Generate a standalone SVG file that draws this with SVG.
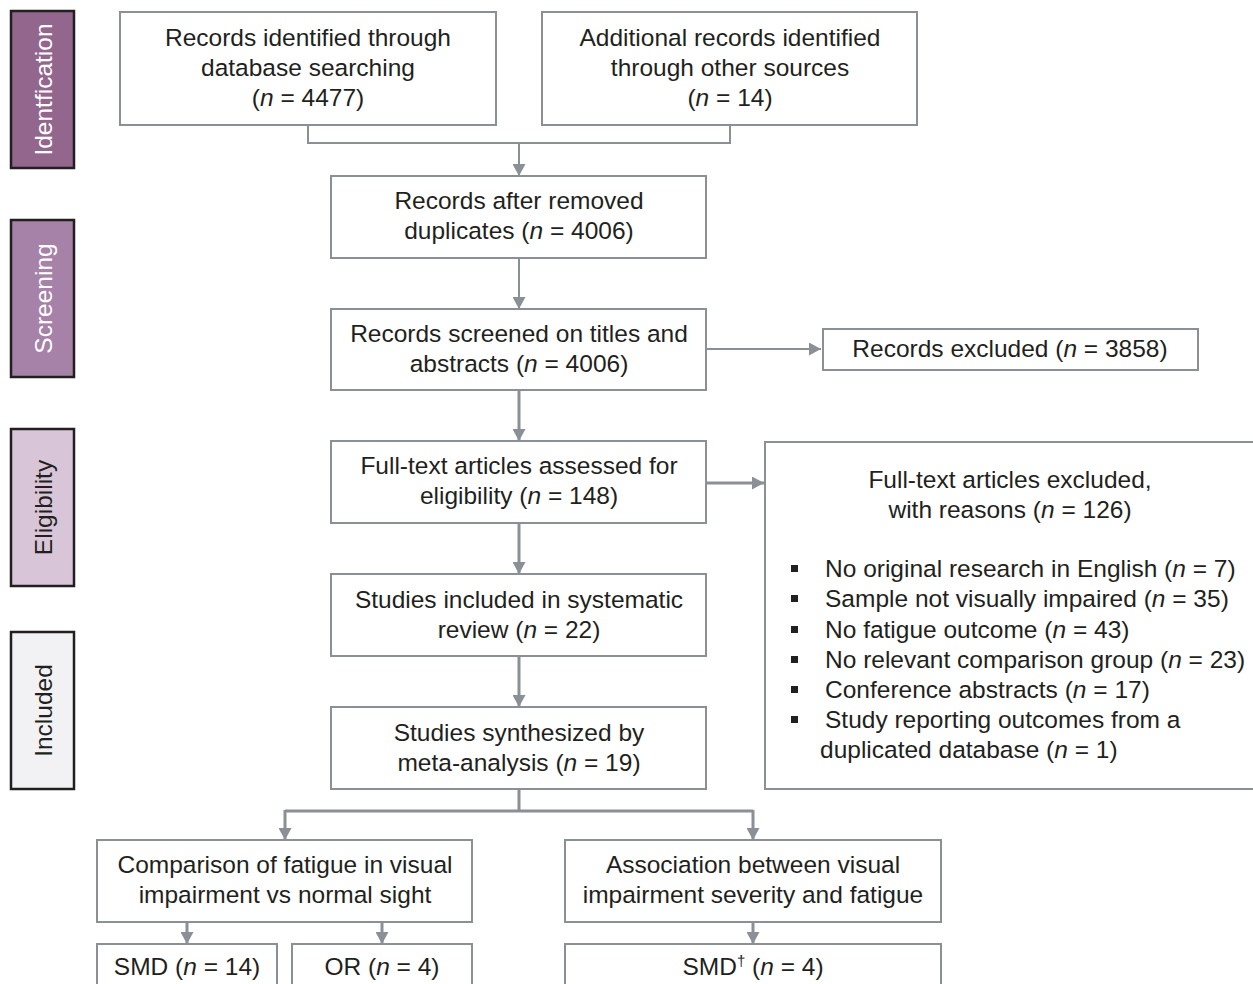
<svg xmlns="http://www.w3.org/2000/svg" width="1253" height="984" viewBox="0 0 1253 984">
<style>
text{font-family:"Liberation Sans",Arial,sans-serif;font-size:24.5px;fill:#231f20}
.box{fill:#fff;stroke:#8a9096;stroke-width:2}
.stage{stroke:#231f20;stroke-width:2.5}
.c{text-anchor:middle}
.w{fill:#fff}
.ln{fill:none;stroke:#8a9096;stroke-width:2}
.lt{fill:none;stroke:#8a9096;stroke-width:3}
.bul{fill:#231f20}
</style>
<defs>
<marker id="ah" viewBox="0 0 12 13" refX="12" refY="6.5" markerWidth="12" markerHeight="13" markerUnits="userSpaceOnUse" orient="auto">
<path d="M0,0 L12,6.5 L0,13 z" fill="#8a9096"/>
</marker>
</defs>
<rect width="1253" height="984" fill="#fff"/>

<g id="stage-identification">
<rect class="stage" x="11" y="11" width="63" height="157" fill="#93668e"/>
<text class="c w" transform="translate(52,89.5) rotate(-90)">Identfication</text>
</g>
<g id="stage-screening">
<rect class="stage" x="11" y="220" width="63" height="157" fill="#a681a8"/>
<text class="c w" transform="translate(52,298.5) rotate(-90)">Screening</text>
</g>
<g id="stage-eligibility">
<rect class="stage" x="11" y="429" width="63" height="157" fill="#d8c6d8"/>
<text class="c" transform="translate(52,507.5) rotate(-90)">Eligibility</text>
</g>
<g id="stage-included">
<rect class="stage" x="11" y="632" width="63" height="157" fill="#f2f2f4"/>
<text class="c" transform="translate(52,710.5) rotate(-90)">Included</text>
</g>

<g id="connectors">
<path class="ln" d="M308,125 V143 H730 V125"/>
<path class="ln" d="M519,143 V176" marker-end="url(#ah)"/>
<path class="ln" d="M519,258 V309" marker-end="url(#ah)"/>
<path class="ln" d="M706,349 H821" marker-end="url(#ah)"/>
<path class="lt" d="M519,390 V441" marker-end="url(#ah)"/>
<path class="lt" d="M706,483 H764" marker-end="url(#ah)"/>
<path class="lt" d="M519,523 V574" marker-end="url(#ah)"/>
<path class="lt" d="M519,656 V707" marker-end="url(#ah)"/>
<path class="lt" d="M519,789 V811 M285,811 H753"/>
<path class="lt" d="M285,810 V840" marker-end="url(#ah)"/>
<path class="lt" d="M753,810 V840" marker-end="url(#ah)"/>
<path class="lt" d="M187,922 V944" marker-end="url(#ah)"/>
<path class="lt" d="M382,922 V944" marker-end="url(#ah)"/>
<path class="lt" d="M753,922 V944" marker-end="url(#ah)"/>
</g>

<g id="node-database">
<rect class="box" x="120" y="12" width="376" height="113"/>
<text class="c" x="308" y="46">Records identified through</text>
<text class="c" x="308" y="76">database searching</text>
<text class="c" x="308" y="106">(<tspan font-style="italic">n</tspan> = 4477)</text>
</g>
<g id="node-other">
<rect class="box" x="542" y="12" width="375" height="113"/>
<text class="c" x="730" y="46">Additional records identified</text>
<text class="c" x="730" y="76">through other sources</text>
<text class="c" x="730" y="106">(<tspan font-style="italic">n</tspan> = 14)</text>
</g>
<g id="node-dedup">
<rect class="box" x="331" y="176" width="375" height="82"/>
<text class="c" x="519" y="209">Records after removed</text>
<text class="c" x="519" y="239">duplicates (<tspan font-style="italic">n</tspan> = 4006)</text>
</g>
<g id="node-screened">
<rect class="box" x="331" y="309" width="375" height="81"/>
<text class="c" x="519" y="342">Records screened on titles and</text>
<text class="c" x="519" y="372">abstracts (<tspan font-style="italic">n</tspan> = 4006)</text>
</g>
<g id="node-excluded">
<rect class="box" x="823" y="329" width="375" height="41"/>
<text class="c" x="1010" y="357">Records excluded (<tspan font-style="italic">n</tspan> = 3858)</text>
</g>
<g id="node-fulltext">
<rect class="box" x="331" y="441" width="375" height="82"/>
<text class="c" x="519" y="474">Full-text articles assessed for</text>
<text class="c" x="519" y="504">eligibility (<tspan font-style="italic">n</tspan> = 148)</text>
</g>
<g id="node-ft-excluded">
<rect class="box" x="765" y="442" width="500" height="347"/>
<text class="c" x="1010" y="488">Full-text articles excluded,</text>
<text class="c" x="1010" y="518">with reasons (<tspan font-style="italic">n</tspan> = 126)</text>
<rect class="bul" x="791" y="565" width="7" height="7"/>
<rect class="bul" x="791" y="595" width="7" height="7"/>
<rect class="bul" x="791" y="626" width="7" height="7"/>
<rect class="bul" x="791" y="656" width="7" height="7"/>
<rect class="bul" x="791" y="686" width="7" height="7"/>
<rect class="bul" x="791" y="716" width="7" height="7"/>
<text x="825" y="577">No original research in English (<tspan font-style="italic">n</tspan> = 7)</text>
<text x="825" y="607">Sample not visually impaired (<tspan font-style="italic">n</tspan> = 35)</text>
<text x="825" y="638">No fatigue outcome (<tspan font-style="italic">n</tspan> = 43)</text>
<text x="825" y="668">No relevant comparison group (<tspan font-style="italic">n</tspan> = 23)</text>
<text x="825" y="698">Conference abstracts (<tspan font-style="italic">n</tspan> = 17)</text>
<text x="825" y="728">Study reporting outcomes from a</text>
<text x="820" y="758">duplicated database (<tspan font-style="italic">n</tspan> = 1)</text>
</g>
<g id="node-review">
<rect class="box" x="331" y="574" width="375" height="82"/>
<text class="c" x="519" y="608">Studies included in systematic</text>
<text class="c" x="519" y="638">review (<tspan font-style="italic">n</tspan> = 22)</text>
</g>
<g id="node-meta">
<rect class="box" x="331" y="707" width="375" height="82"/>
<text class="c" x="519" y="741">Studies synthesized by</text>
<text class="c" x="519" y="771">meta-analysis (<tspan font-style="italic">n</tspan> = 19)</text>
</g>
<g id="node-comparison">
<rect class="box" x="97" y="840" width="375" height="82"/>
<text class="c" x="285" y="873">Comparison of fatigue in visual</text>
<text class="c" x="285" y="903">impairment vs normal sight</text>
</g>
<g id="node-association">
<rect class="box" x="565" y="840" width="376" height="82"/>
<text class="c" x="753" y="873">Association between visual</text>
<text class="c" x="753" y="903">impairment severity and fatigue</text>
</g>
<g id="node-smd">
<rect class="box" x="97" y="944" width="180" height="60"/>
<text class="c" x="187" y="975">SMD (<tspan font-style="italic">n</tspan> = 14)</text>
</g>
<g id="node-or">
<rect class="box" x="292" y="944" width="180" height="60"/>
<text class="c" x="382" y="975">OR (<tspan font-style="italic">n</tspan> = 4)</text>
</g>
<g id="node-smd2">
<rect class="box" x="565" y="944" width="376" height="60"/>
<text class="c" x="753" y="975">SMD<tspan font-size="15" dy="-9">†</tspan><tspan dy="9"> (</tspan><tspan font-style="italic">n</tspan> = 4)</text>
</g>
</svg>
